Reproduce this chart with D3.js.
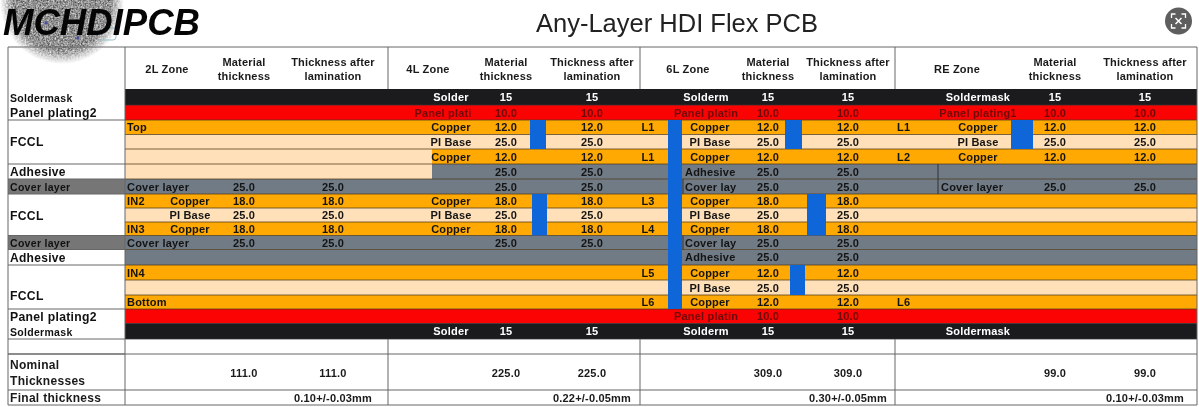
<!DOCTYPE html>
<html lang="en">
<head>
<meta charset="utf-8">
<style>
    html, body { margin: 0; padding: 0; background: #fff; overflow: hidden; }
    text { font-family: "Liberation Sans", Arial, sans-serif; }
    #chart { display: block; filter: blur(0.3px); }
</style>
<script src="https://d3js.org/d3.v7.min.js"></script>
</head>
<body>
<svg id="chart" width="1199" height="407"></svg>
<script>
// layer stack, top to bottom
const rowKinds = ['mask','plating','copper','base','copper','adhesive','cover','copper','base','copper','cover','adhesive','copper','base','copper','plating','mask'];

const stackLabels = ['Soldermask','Panel plating2','FCCL','Adhesive','Cover layer','FCCL','Cover layer','Adhesive','FCCL','Panel plating2','Soldermask'];
const stackLabelRows = [0.5,1.5,3.5,5.5,6.5,8.5,10.5,11.5,14,15.5,16.5];
const stackBreaks = [2,5,6,7,10,11,12,15,17,18];

const zoneTitles = ['2L Zone','4L Zone','6L Zone','RE Zone'];
const zoneNominal = [111.0,225.0,309.0,99.0];
const zoneFinal = ['0.10+/-0.03mm','0.22+/-0.05mm','0.30+/-0.05mm','0.10+/-0.03mm'];

// 2L zone
const tags2L = [,,'Top',,,,'Cover layer','IN2',,'IN3','Cover layer',,'IN4',,'Bottom',,,];
const names2L = [,,,,,,,'Copper','PI Base','Copper',,,,,,,,];
const material2L = [,,,,,,25,18,25,18,25,,,,,,,];
const after2L = [,,,,,,25,18,25,18,25,,,,,,,];

// 4L zone
const names4L = ['Solder',,'Copper','PI Base','Copper',,,'Copper','PI Base','Copper',,,,,,,'Solder'];
const plating4L = [,'Panel plati',,,,,,,,,,,,,,,,];
const material4L = [15,10,12,25,12,25,25,18,25,18,25,,,,,,15];
const after4L = [15,10,12,25,12,25,25,18,25,18,25,,,,,,15];
const tags4L = [,,'L1',,'L1',,,'L3',,'L4',,,'L5',,'L6',,,];

// 6L zone
const names6L = [,,'Copper','PI Base','Copper',,,'Copper','PI Base','Copper',,,'Copper','PI Base','Copper',,,];
const edge6L = ['Solderm','Panel platin',,,,,,,,,,,,,,'Panel platin','Solderm'];
const leftNames6L = [,,,,,'Adhesive','Cover lay',,,,'Cover lay','Adhesive',,,,,,];
const material6L = [15,10,12,25,12,25,25,18,25,18,25,25,12,25,12,10,15];
const after6L = [15,10,12,25,12,25,25,18,25,18,25,25,12,25,12,10,15];

// RE zone
const tagsRE = [,,'L1',,'L2',,,,,,,,,,'L6',,,];
const namesRE = ['Soldermask','Panel plating1','Copper','PI Base','Copper',,,,,,,,,,,,'Soldermask'];
const leftNamesRE = [,,,,,,'Cover layer',,,,,,,,,,,];
const materialRE = [15,10,12,25,12,,25,,,,,,,,,,];
const afterRE = [15,10,12,25,12,,25,,,,,,,,,,];

// vias: first row, row after the last
const viaKeys = ['v4a','v4b','v6main','v6a','v6b','v6c','vRE'];
const viaFrom = [2,7,2,2,7,12,2];
const viaTo = [4,10,15,4,10,14,4];

const rowEdges = [89,105,120,134.5,149,164,179,194,208,222,235.5,249.5,265,280,295,309,323.5,339,354,390,405];
const y = d3.scaleLinear().domain(d3.range(rowEdges.length)).range(rowEdges);

const colX = d3.scaleOrdinal()
    .domain(['stack','tag2','name2','mat2','aft2','plate4','name4','mat4','aft4','tag4','left6','edge6','name6','mat6','aft6','tagRE','leftRE','nameRE','matRE','aftRE'])
    .range([10,127,190,244,333,443,451,506,592,648,685,706,710,768,848,897,941,978,1055,1145]);

const viaLeft = d3.scaleOrdinal().domain(viaKeys).range([530,532,668,785,807,790,1011]);
const viaRight = d3.scaleOrdinal().domain(viaKeys).range([546,547,682,802,826,805,1033]);

const kindFill = d3.scaleOrdinal()
    .domain(['mask','plating','copper','base','adhesive','cover'])
    .range(['#1b1b1d','#fb0303','#ffa902','#ffe0b8','#707b86','#707b86']);

const svg = d3.select('#chart');

// logo blob behind the brand name
const defs = svg.append('defs');
const noise = defs.append('filter').attr('id','speckle').attr('color-interpolation-filters','sRGB')
    .attr('x','-10%').attr('y','-10%').attr('width','120%').attr('height','120%');
noise.append('feTurbulence').attr('type','fractalNoise').attr('baseFrequency',0.6).attr('numOctaves',2).attr('seed',4).attr('result','n');
noise.append('feColorMatrix').attr('in','n').attr('type','matrix')
    .attr('values','0.9 0 0 0 0.12  0.9 0 0 0 0.12  0.9 0 0 0 0.12  0 0 0 0 1').attr('result','g');
noise.append('feComposite').attr('in','g').attr('in2','SourceAlpha').attr('operator','in');
const fade = defs.append('radialGradient').attr('id','blobFade');
fade.append('stop').attr('offset','78%').attr('stop-color','#000').attr('stop-opacity',1);
fade.append('stop').attr('offset','100%').attr('stop-color','#000').attr('stop-opacity',0);
svg.append('circle').attr('cx',62).attr('cy',2).attr('r',62).attr('fill','url(#blobFade)').attr('filter','url(#speckle)');
svg.append('path').attr('d','M108 28H116V37Q116 40 113 40H100').attr('fill','none').attr('stroke','#7fb6c4').attr('stroke-width',0.8);
svg.append('circle').attr('cx',46).attr('cy',23).attr('r',1.5).attr('fill','#4a4aa8');
svg.append('circle').attr('cx',78).attr('cy',38).attr('r',1.5).attr('fill','#4a4aa8');

svg.append('text').attr('x',3).attr('y',34.5).attr('font-size',37).attr('font-weight','bold').attr('font-style','italic')
    .attr('fill','#050505').attr('textLength',197).attr('lengthAdjust','spacingAndGlyphs').text('MCHDIPCB');

svg.append('text').attr('x',677).attr('y',32).attr('text-anchor','middle').attr('font-size',25.5)
    .attr('fill','#222').text('Any-Layer HDI Flex PCB');

// round icon top right
const icon = svg.append('g').attr('transform','translate(1178.5,21)');
icon.append('circle').attr('r',13.5).attr('fill','#5e5e5e');
icon.append('path').attr('d','M-7 -3V-7H-3M3 -7H7V-3M7 3V7H3M-3 7H-7V3').attr('fill','none').attr('stroke','#fff').attr('stroke-width',1.3);
icon.append('path').attr('d','M-3 -3L3 3M3 -3L-3 3').attr('fill','none').attr('stroke','#fff').attr('stroke-width',1.5);

// layer bands
const xStackEnd = 125, xEnd = 1197;
svg.append('g').selectAll('rect').data(rowKinds).join('rect')
    .attr('x',xStackEnd).attr('width',xEnd-xStackEnd)
    .attr('y',(d,i)=>y(i)).attr('height',(d,i)=>y(i+1)-y(i))
    .attr('fill',d=>kindFill(d));

// base material running under the 2L side
svg.append('g').selectAll('rect').data([4,5]).join('rect')
    .attr('x',xStackEnd).attr('width',432-xStackEnd)
    .attr('y',d=>y(d)).attr('height',d=>y(d+1)-y(d))
    .attr('fill',kindFill('base'));

// cover layer cells in first column
svg.append('g').selectAll('rect').data([6,10]).join('rect')
    .attr('x',8).attr('width',xStackEnd-8)
    .attr('y',d=>y(d)).attr('height',d=>y(d+1)-y(d))
    .attr('fill','#767676');

// row lines
svg.append('g').selectAll('line').data(d3.range(1,18)).join('line')
    .attr('x1',xStackEnd).attr('x2',xEnd)
    .attr('y1',d=>y(d)).attr('y2',d=>y(d))
    .attr('stroke',d=>(d>=2&&d<=15)?'#4d3a1c':'#333').attr('stroke-width',1).attr('stroke-opacity',0.75);

// vias
svg.append('g').selectAll('rect').data(viaKeys).join('rect')
    .attr('x',d=>viaLeft(d)).attr('width',d=>viaRight(d)-viaLeft(d))
    .attr('y',(d,i)=>y(viaFrom[i])).attr('height',(d,i)=>y(viaTo[i])-y(viaFrom[i]))
    .attr('fill','#0f66d9');

// frame and grid
const grid = svg.append('g').attr('stroke','#666').attr('stroke-width',1);
grid.selectAll('.h').data([47,354,390,405]).join('line').attr('class','h')
    .attr('x1',8).attr('x2',xEnd).attr('y1',d=>d).attr('y2',d=>d);
grid.selectAll('.s').data(stackBreaks).join('line').attr('class','s')
    .attr('x1',8).attr('x2',xStackEnd).attr('y1',d=>y(d)).attr('y2',d=>y(d));
grid.append('line').attr('x1',8).attr('x2',8).attr('y1',47).attr('y2',405);
grid.append('line').attr('x1',xEnd).attr('x2',xEnd).attr('y1',47).attr('y2',405);
grid.append('line').attr('x1',xStackEnd).attr('x2',xStackEnd).attr('y1',47).attr('y2',405);
const zoneBreaks = [388,640,895];
grid.selectAll('.zt').data(zoneBreaks).join('line').attr('class','zt')
    .attr('x1',d=>d).attr('x2',d=>d).attr('y1',47).attr('y2',89);
grid.selectAll('.zb').data(zoneBreaks).join('line').attr('class','zb')
    .attr('x1',d=>d).attr('x2',d=>d).attr('y1',339).attr('y2',405);
// dark ticks next to the cover cells
grid.append('line').attr('x1',938).attr('x2',938).attr('y1',y(5)).attr('y2',y(7)).attr('stroke','#333');
grid.append('line').attr('x1',683).attr('x2',683).attr('y1',y(6)).attr('y2',y(7)).attr('stroke','#333');
grid.append('line').attr('x1',683).attr('x2',683).attr('y1',y(10)).attr('y2',y(11)).attr('stroke','#333');

// header
const headerCols = [['mat2','aft2'],['mat4','aft4'],['mat6','aft6'],['matRE','aftRE']];
const zoneTitleX = [167,428,688,957];
const head = svg.append('g').attr('font-size',11).attr('font-weight','bold').attr('fill','#1a1a1a').attr('text-anchor','middle').attr('letter-spacing',0.2);
zoneTitles.forEach((t,i)=>{
    head.append('text').attr('x',zoneTitleX[i]).attr('y',73).text(t);
    head.append('text').attr('x',colX(headerCols[i][0])).attr('y',66).text('Material');
    head.append('text').attr('x',colX(headerCols[i][0])).attr('y',80).text('thickness');
    head.append('text').attr('x',colX(headerCols[i][1])).attr('y',66).text('Thickness after');
    head.append('text').attr('x',colX(headerCols[i][1])).attr('y',80).text('lamination');
});

// first column labels
const stackSize = d3.scaleOrdinal().domain(['Soldermask','Cover layer','Adhesive']).range([10.5,10.5,12]).unknown(12.2);
svg.append('g').selectAll('text').data(stackLabels).join('text')
    .attr('x',colX('stack')).attr('y',(d,i)=>y(stackLabelRows[i])+4.5)
    .attr('font-size',d=>stackSize(d)).attr('font-weight','bold').attr('letter-spacing',0.3)
    .attr('fill','#111').text(d=>d);

// cell text, one column at a time
function textColour(i){
    const k = rowKinds[i];
    return k==='mask' ? '#fff' : k==='plating' ? '#700a0a' : '#141414';
}
function drawColumn(values,col,anchor,size,isNumber){
    const cells = [];
    values.forEach((v,i)=>{ if(v!==undefined) cells.push({v:v,i:i}); });
    svg.append('g').selectAll('text').data(cells).join('text')
        .attr('x',colX(col)).attr('y',d=>y(d.i+0.5)+4)
        .attr('text-anchor',anchor).attr('font-size',size).attr('font-weight','bold')
        .attr('letter-spacing',0.2)
        .attr('fill',d=>textColour(d.i))
        .text(d=>isNumber ? (rowKinds[d.i]==='mask' ? d.v : d.v.toFixed(1)) : d.v);
}
drawColumn(tags2L,'tag2','start',11);
drawColumn(names2L,'name2','middle',11);
drawColumn(material2L,'mat2','middle',11,true);
drawColumn(after2L,'aft2','middle',11,true);
drawColumn(names4L,'name4','middle',11);
drawColumn(plating4L,'plate4','middle',11);
drawColumn(material4L,'mat4','middle',11,true);
drawColumn(after4L,'aft4','middle',11,true);
drawColumn(tags4L,'tag4','middle',11);
drawColumn(names6L,'name6','middle',11);
drawColumn(edge6L,'edge6','middle',11);
drawColumn(leftNames6L,'left6','start',11);
drawColumn(material6L,'mat6','middle',11,true);
drawColumn(after6L,'aft6','middle',11,true);
drawColumn(tagsRE,'tagRE','start',11);
drawColumn(namesRE,'nameRE','middle',11);
drawColumn(leftNamesRE,'leftRE','start',11);
drawColumn(materialRE,'matRE','middle',11,true);
drawColumn(afterRE,'aftRE','middle',11,true);

// summary rows
const foot = svg.append('g').attr('font-weight','bold').attr('fill','#1a1a1a');
foot.append('text').attr('x',colX('stack')).attr('y',368.5).attr('font-size',12).attr('letter-spacing',0.3).text('Nominal');
foot.append('text').attr('x',colX('stack')).attr('y',385).attr('font-size',12).attr('letter-spacing',0.3).text('Thicknesses');
foot.append('text').attr('x',colX('stack')).attr('y',402).attr('font-size',12).attr('letter-spacing',0.3).text('Final thickness');
zoneNominal.forEach((v,i)=>{
    headerCols[i].forEach(c=>{
        foot.append('text').attr('x',colX(c)).attr('y',377).attr('text-anchor','middle').attr('font-size',11).attr('letter-spacing',0.2).text(v.toFixed(1));
    });
    foot.append('text').attr('x',colX(headerCols[i][1])).attr('y',402).attr('text-anchor','middle').attr('font-size',11).attr('letter-spacing',0.2).text(zoneFinal[i]);
});
</script>
</body>
</html>
